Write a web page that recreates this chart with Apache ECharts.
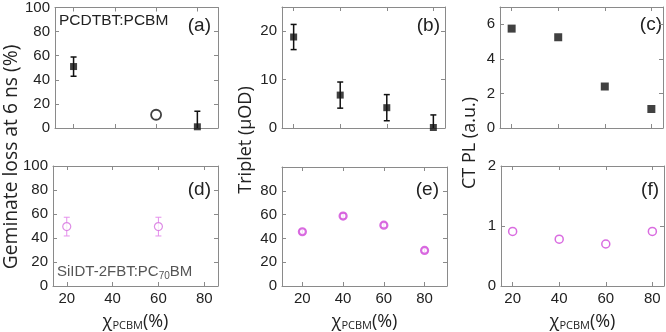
<!DOCTYPE html>
<html>
<head>
<meta charset="utf-8">
<script src="https://cdn.jsdelivr.net/npm/echarts@6/dist/echarts.min.js"></script>
<style>html,body{margin:0;padding:0;background:#fff}#main{width:666px;height:332px}</style>
</head>
<body>
<div id="main"></div>
<script>
// x ticks (PCBM fraction, %)
const pcbmTicks = [20, 40, 60, 80];

// (a) geminate loss, PCDTBT:PCBM
const gemAx = [20, 80];
const gemAy = [51, 1];
const gemAerr = [8, 13];
const gemAOpenX = [60];
const gemAOpenY = [11];
// (b) triplet
const tripBx = [20, 40, 60, 80];
const tripBy = [18.8, 6.8, 4.2, 0.1];
const tripBerr = [2.6, 2.7, 2.7, 2.6];
// (c) CT PL
const ctCx = [20, 40, 60, 80];
const ctCy = [5.75, 5.25, 2.4, 1.1];
// (d) geminate loss, SiIDT-2FBT:PC70BM
const gemDx = [20, 60];
const gemDy = [49.5, 49.5];
const gemDerr = [7.8, 7.8];
// (e) triplet
const tripEx = [20, 40, 60, 80];
const tripEy = [45.6, 58.8, 51.1, 29.9];
const tripEerr = [1.8, 2.2, 1.8, 1.8];
// (f) CT PL
const ctFx = [20, 40, 60, 80];
const ctFy = [0.91, 0.78, 0.70, 0.91];

// y ticks
const yTicksGem = [0, 20, 40, 60, 80, 100];
const yTicksTripB = [0, 10, 20];
const yTicksCtC = [0, 2, 4, 6];
const yTicksTripE = [0, 20, 40, 60, 80];
const yTicksCtF = [0, 1, 2];

const axisCol = '#8a8a8a';
const labCol = '#222';
const magenta = '#d046d8';

let myChart = echarts.init(document.getElementById('main'));

const grids = [
  {left: 55, top: 6, width: 163, height: 122},
  {left: 282, top: 7, width: 163, height: 121},
  {left: 500, top: 7, width: 163, height: 121},
  {left: 53, top: 166, width: 165, height: 123},
  {left: 282, top: 167, width: 165, height: 121},
  {left: 501, top: 166, width: 163, height: 121}
];
const xRange = [[11, 90], [15, 85], [15, 85], [14, 86], [10, 91], [15, 85]];
const yRange = [[0, 100], [0, 25], [0, 7], [0, 100], [0, 100], [0, 2]];
const yTicks = [yTicksGem, yTicksTripB, yTicksCtC, yTicksGem, yTicksTripE, yTicksCtF];

let xAxes = [], yAxes = [];
grids.forEach((g, i) => {
  const bottomRow = i >= 3;
  ['bottom', 'top'].forEach(pos => {
    const main = pos === 'bottom';
    xAxes.push({
      type: 'value', gridIndex: i, position: pos,
      min: xRange[i][0], max: xRange[i][1],
      splitLine: {show: false},
      axisLine: {onZero: false, lineStyle: {color: axisCol}},
      axisTick: {inside: true, length: 4, customValues: pcbmTicks, lineStyle: {color: axisCol}},
      axisLabel: {show: main && bottomRow, customValues: pcbmTicks, fontSize: 15, color: labCol,
                  margin: 5, fontFamily: 'Liberation Sans'},
      name: (main && bottomRow) ? 'χ{s|PCBM}(%)' : '',
      nameLocation: 'middle', nameGap: 27,
      nameTextStyle: {fontSize: 18, color: labCol, fontFamily: 'Open Sans',
        rich: {s: {fontSize: 11, color: labCol, fontFamily: 'Open Sans', verticalAlign: 'bottom', padding: [6, 0, 0, 0]}}}
    });
  });
  ['left', 'right'].forEach(pos => {
    const main = pos === 'left';
    yAxes.push({
      type: 'value', gridIndex: i, position: pos,
      min: yRange[i][0], max: yRange[i][1],
      splitLine: {show: false},
      axisLine: {onZero: false, lineStyle: {color: axisCol}},
      axisTick: {inside: true, length: 4, customValues: yTicks[i], lineStyle: {color: axisCol}},
      axisLabel: {show: main, customValues: yTicks[i], fontSize: 15, color: labCol,
                  margin: 5, fontFamily: 'Liberation Sans'}
    });
  });
});

function zip3(xs, ys, es) {
  return xs.map((x, k) => es ? [x, ys[k], es[k]] : [x, ys[k]]);
}

function errBars(gi, data, color, lw) {
  return {
    type: 'custom', xAxisIndex: 2 * gi, yAxisIndex: 2 * gi, clip: true,
    data: data, z: 2,
    renderItem: function (params, api) {
      const x = api.value(0), y = api.value(1), e = api.value(2);
      const top = api.coord([x, y + e]);
      const bot = api.coord([x, y - e]);
      const st = {stroke: color, lineWidth: lw};
      return {type: 'group', children: [
        {type: 'line', shape: {x1: top[0], y1: top[1], x2: bot[0], y2: bot[1]}, style: st},
        {type: 'line', shape: {x1: top[0] - 3, y1: top[1], x2: top[0] + 3, y2: top[1]}, style: st},
        {type: 'line', shape: {x1: bot[0] - 3, y1: bot[1], x2: bot[0] + 3, y2: bot[1]}, style: st}
      ]};
    }
  };
}

function pts(gi, data, symbol, size, style) {
  return {
    type: 'scatter', xAxisIndex: 2 * gi, yAxisIndex: 2 * gi,
    data: data, symbol: symbol, symbolSize: size, itemStyle: style, z: 3,
    clip: false, silent: true
  };
}

const series = [
  errBars(0, zip3(gemAx, gemAy, gemAerr), '#111', 1.5),
  pts(0, zip3(gemAx, gemAy), 'rect', 7, {color: '#111'}),
  pts(0, zip3(gemAOpenX, gemAOpenY), 'circle', 10, {color: '#fff', borderColor: '#111', borderWidth: 1.8}),
  errBars(1, zip3(tripBx, tripBy, tripBerr), '#111', 1.5),
  pts(1, zip3(tripBx, tripBy), 'rect', 7, {color: '#111'}),
  pts(2, zip3(ctCx, ctCy), 'rect', 8, {color: '#111'}),
  errBars(3, zip3(gemDx, gemDy, gemDerr), '#e590ec', 1),
  pts(3, zip3(gemDx, gemDy), 'circle', 8, {color: '#fff', borderColor: '#d670e0', borderWidth: 1.2}),
  errBars(4, zip3(tripEx, tripEy, tripEerr), magenta, 1),
  pts(4, zip3(tripEx, tripEy), 'circle', 7, {color: '#fff', borderColor: magenta, borderWidth: 2.2}),
  pts(5, zip3(ctFx, ctFy), 'circle', 8, {color: '#fff', borderColor: magenta, borderWidth: 1.5})
];

const tag = (t, x, y) => ({type: 'text', x: x, y: y, style: {text: t, fontSize: 19, fill: labCol,
  fontFamily: 'Liberation Sans', align: 'right', verticalAlign: 'middle'}});
const ytitle = (t, x, y, fs) => ({type: 'text', x: x, y: y, rotation: Math.PI / 2, style: {text: t, fontSize: fs,
  fill: labCol, fontFamily: 'Open Sans', align: 'center', verticalAlign: 'middle'}});

let option = {
  animation: false,
  grid: grids,
  xAxis: xAxes,
  yAxis: yAxes,
  series: series,
  graphic: [
    ytitle('Geminate loss at 6 ns (%)', 12, 157, 19.3),
    ytitle('Triplet (μOD)', 246, 140, 18),
    ytitle('CT PL (a.u.)', 470, 143, 18),
    {type: 'text', x: 59, y: 21, style: {text: 'PCDTBT:PCBM', fontSize: 15.5, fill: labCol,
      fontFamily: 'Liberation Sans', align: 'left', verticalAlign: 'middle'}},
    {type: 'text', x: 57, y: 272, style: {
      text: 'SiIDT-2FBT:PC{s|70}BM', fontSize: 15, fill: '#555',
      fontFamily: 'Liberation Sans', align: 'left', verticalAlign: 'middle',
      rich: {s: {fontSize: 10, fill: '#555', fontFamily: 'Liberation Sans', verticalAlign: 'bottom', padding: [8, 0, 0, 0]}}}},
    tag('(a)', 211, 26),
    tag('(b)', 440, 26),
    tag('(c)', 662, 25),
    tag('(d)', 211, 190),
    tag('(e)', 439, 190),
    tag('(f)', 659, 190)
  ]
};

myChart.setOption(option);
window.addEventListener('resize', function () {
  myChart.resize();
}, false);
</script>
</body>
</html>
